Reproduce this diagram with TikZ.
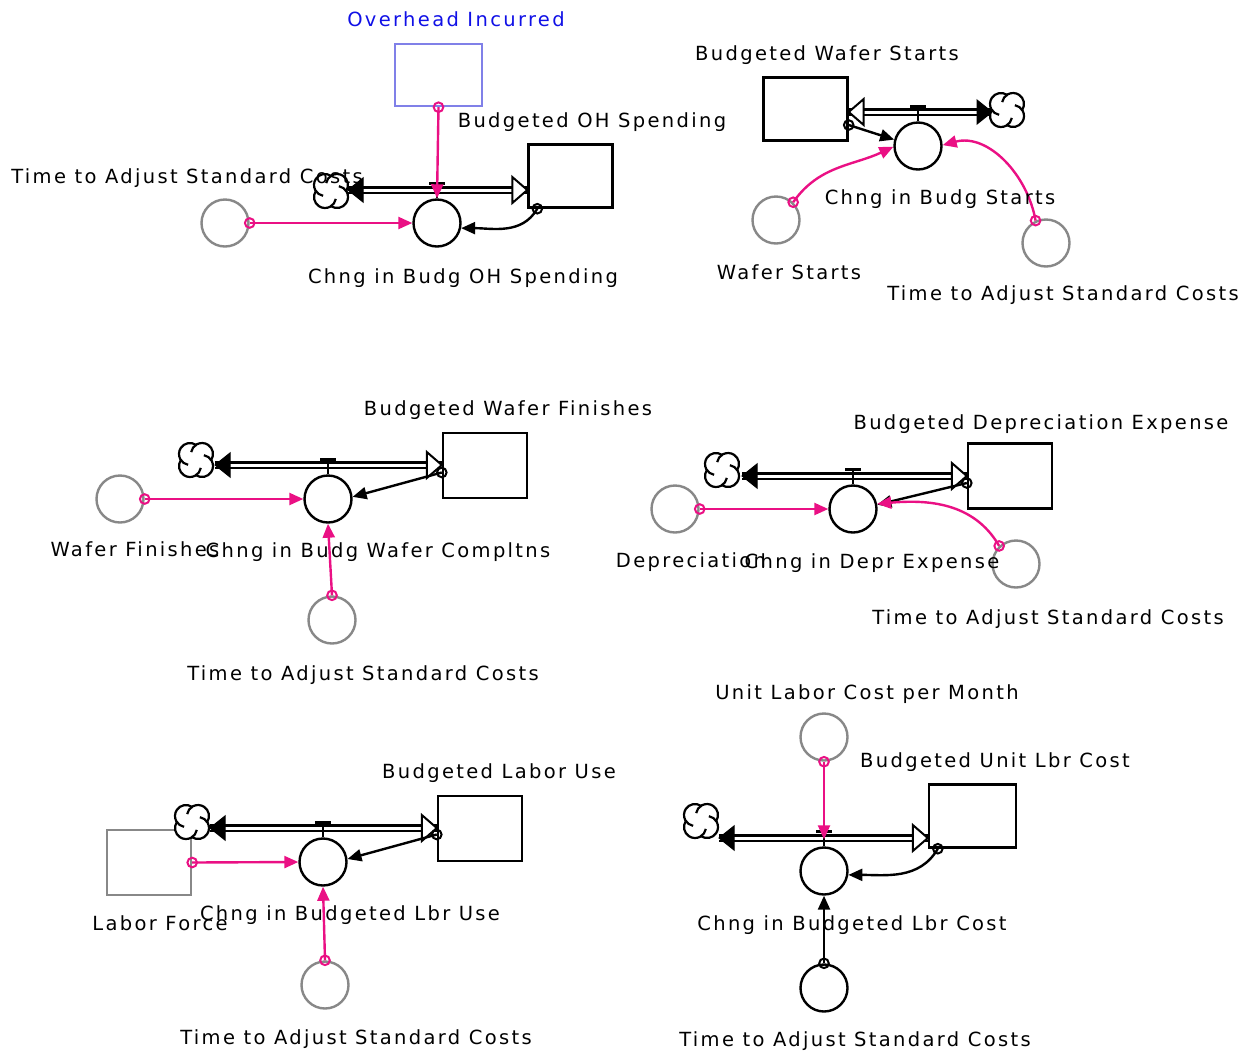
\documentclass[tikz,border=0pt]{standalone}
\usepackage{fontspec}
\newfontfamily\lblfont{DejaVu Sans}[LetterSpace=12]
\usetikzlibrary{arrows.meta}
\definecolor{pinkc}{RGB}{234,16,132}
\definecolor{grayc}{RGB}{136,136,136}
\definecolor{lavc}{RGB}{128,128,232}
\definecolor{bluec}{RGB}{16,16,230}

\newcommand\sdcloud[1]{%
 \fill[white] (#1.center) +(6,6) circle (11) +(-6,6) circle (11) +(-6,-6) circle (11) +(6,-6) circle (11);
 \draw[line width=2.2pt] (#1.center) ++(6,6) ++(-33.1:11) arc[start angle=-33.1, end angle=170, radius=11];
 \draw[line width=2.2pt] (#1.center) ++(-6,6) ++(56.9:11) arc[start angle=56.9, end angle=260, radius=11];
 \draw[line width=2.2pt] (#1.center) ++(-6,-6) ++(146.9:11) arc[start angle=146.9, end angle=350, radius=11];
 \draw[line width=2.2pt] (#1.center) ++(6,-6) ++(236.9:11) arc[start angle=236.9, end angle=440, radius=11];
}
\newcommand\headL[1]{\filldraw[black, line width=1pt, line join=miter] (#1) -- ++(15,12) -- ++(0,-24) -- cycle;}
\newcommand\headR[1]{\filldraw[black, line width=1pt, line join=miter] (#1) -- ++(-15,12) -- ++(0,-24) -- cycle;}
\newcommand\openL[1]{\filldraw[fill=white, draw=black, line width=2pt, line join=miter] (#1) -- ++(15,13) -- ++(0,-26) -- cycle;}
\newcommand\openR[1]{\filldraw[fill=white, draw=black, line width=2pt, line join=miter] (#1) -- ++(-15,13) -- ++(0,-26) -- cycle;}
\newcommand\valveT[1]{\draw[line width=2.4pt] (#1.north) -- ++(0,15) ++(-8,0) -- ++(16,0);}
\newcommand\pdot[1]{\draw[pinkc, line width=2pt] (#1) circle (4.8);}
\newcommand\kdot[1]{\draw[black, line width=2pt] (#1) circle (4.8);}

\tikzset{
 stockbox/.style={draw=black, line width=2.4pt, fill=white, minimum width=84pt, minimum height=63pt, inner sep=0},
 valvec/.style={circle, draw=black, line width=2.4pt, fill=white, minimum size=47pt, inner sep=0},
 auxc/.style={circle, draw=grayc, line width=2.4pt, minimum size=47pt, inner sep=0},
 auxk/.style={auxc, draw=black},
 cloudn/.style={circle, minimum size=34pt, inner sep=0, draw=none},
 lbl/.style={font=\lblfont\fontsize{19.5pt}{21pt}\selectfont, inner sep=0, text height=14pt, text depth=0pt, anchor=center},
 pinkarr/.style={draw=pinkc, line width=2.4pt, -{Triangle[length=14pt,width=12pt]}},
 blackarr/.style={draw=black, line width=2.4pt, -{Triangle[length=14pt,width=12pt]}},
 pipe/.style={draw=black, line width=2.4pt, double=white, double distance=3pt},
}

\begin{document}
\begin{tikzpicture}[x=1pt,y=1pt]
\useasboundingbox (0,0) rectangle (1252,-1053);

% ---------- nodes ----------
% module 1
\node[stockbox, draw=lavc, minimum width=87pt, minimum height=62pt] (ov) at (438.5,-75) {};
\node[stockbox] (s1) at (570.5,-176) {};
\node[auxc] (a1) at (225,-223) {};
\node[cloudn] (c1) at (331,-191) {};
% module 2
\node[stockbox] (s2) at (805.5,-109) {};
\node[auxc] (a2w) at (776,-220) {};
\node[auxc] (a2t) at (1046,-243) {};
\node[cloudn] (c2) at (1007,-110) {};
% module 3
\node[stockbox, minimum height=65pt] (s3) at (485,-465.5) {};
\node[auxc] (a3w) at (120,-499) {};
\node[auxc] (a3t) at (332,-620) {};
\node[cloudn] (c3) at (196,-460) {};
% module 4
\node[stockbox, minimum height=65pt] (s4) at (1010,-476) {};
\node[auxc] (a4d) at (675,-509) {};
\node[auxc] (a4t) at (1016,-564) {};
\node[cloudn] (c4) at (722,-470) {};
% module 5
\node[stockbox, minimum height=65pt] (s5) at (480,-828.5) {};
\node[stockbox, draw=grayc, minimum height=65pt] (lf) at (149,-862.5) {};
\node[auxc] (a5t) at (325,-985) {};
\node[cloudn] (c5) at (192,-822) {};
% module 6
\node[stockbox, minimum width=87pt] (s6) at (972.5,-816) {};
\node[auxc] (a6u) at (824,-737) {};
\node[auxk] (a6t) at (824,-988) {};
\node[cloudn] (c6) at (701,-821) {};

% pipe end coordinates
\coordinate (p1a) at (348,-190); \coordinate (p1b) at (s1.west |- p1a);
\coordinate (p2a) at (992,-112); \coordinate (p2b) at (s2.east |- p2a);
\coordinate (p3a) at (215,-465); \coordinate (p3b) at (s3.west |- p3a);
\coordinate (p4a) at (742,-476); \coordinate (p4b) at (s4.west |- p4a);
\coordinate (p5a) at (210,-828); \coordinate (p5b) at (s5.west |- p5a);
\coordinate (p6a) at (719,-838); \coordinate (p6b) at (s6.west |- p6a);

% ---------- pipes ----------
\draw[pipe] (p1a) -- (p1b);
\draw[pipe] (p2a) -- (p2b);
\draw[pipe] (p3a) -- (p3b);
\draw[pipe] (p4a) -- (p4b);
\draw[pipe] (p5a) -- (p5b);
\draw[pipe] (p6a) -- (p6b);
\headL{p1a} \openR{p1b}
\headR{p2a} \openL{p2b}
\headL{p3a} \openR{p3b}
\headL{p4a} \openR{p4b}
\headL{p5a} \openR{p5b}
\headL{p6a} \openR{p6b}

% ---------- clouds ----------
\sdcloud{c1} \sdcloud{c2} \sdcloud{c3} \sdcloud{c4} \sdcloud{c5} \sdcloud{c6}

% ---------- valves ----------
\node[valvec] (v1) at (437,-223) {};
\node[valvec] (v2) at (918,-146) {};
\node[valvec] (v3) at (328,-499) {};
\node[valvec] (v4) at (853,-509) {};
\node[valvec] (v5) at (323,-862) {};
\node[valvec] (v6) at (824,-871) {};
\valveT{v1} \valveT{v2} \valveT{v3} \valveT{v4} \valveT{v5} \valveT{v6}

% ---------- connectors ----------
% module 1
\draw[pinkarr] (ov.south) -- (v1.north); \pdot{ov.south}
\draw[pinkarr] (a1.east) -- (v1.west); \pdot{a1.east}
\draw[blackarr] ([xshift=10pt]s1.south west) to[out=240,in=0] (v1.-12); \kdot{[xshift=10pt]s1.south west}
% module 2
\draw[blackarr] ([yshift=-16pt]s2.east) -- (v2.165); \kdot{[yshift=-16pt]s2.east}
\draw[pinkarr] (a2w.46) to[out=55,in=205] (v2.182); \pdot{a2w.46}
\draw[pinkarr] (a2t.115) to[out=100,in=15] (v2.2); \pdot{a2t.115}
% module 3
\draw[blackarr] ([yshift=-7pt]s3.west) -- (v3.5); \kdot{[yshift=-7pt]s3.west}
\draw[pinkarr] (a3w.east) -- (v3.west); \pdot{a3w.east}
\draw[pinkarr] (a3t.north) -- (v3.south); \pdot{a3t.north}
% module 4
\draw[blackarr] ([yshift=-7pt]s4.west) -- (v4.10); \kdot{[yshift=-7pt]s4.west}
\draw[pinkarr] (a4d.east) -- (v4.west); \pdot{a4d.east}
\draw[pinkarr] (a4t.133) to[out=120,in=5] (v4.12); \pdot{a4t.133}
% module 5
\draw[blackarr] ([yshift=-6pt]s5.west) -- (v5.7); \kdot{[yshift=-6pt]s5.west}
\draw[pinkarr] (lf.east) -- (v5.west); \pdot{lf.east}
\draw[pinkarr] (a5t.north) -- (v5.south); \pdot{a5t.north}
% module 6
\draw[pinkarr] (a6u.south) -- ([yshift=7pt]v6.north); \pdot{a6u.south}
\draw[blackarr] ([xshift=10pt]s6.south west) to[out=240,in=0] (v6.-9); \kdot{[xshift=10pt]s6.south west}
\draw[blackarr] (a6t.north) -- (v6.south); \kdot{a6t.north}

% ---------- labels ----------
\node[lbl, text=bluec] (t1a) at (456,-19) {Overhead Incurred};
\node[lbl] (t1b) at (592,-120) {Budgeted OH Spending};
\node[lbl] (t1c) at (187,-176) {Time to Adjust Standard Costs};
\node[lbl] (t1d) at (463,-276) {Chng in Budg OH Spending};

\node[lbl] (t2a) at (827,-53) {Budgeted Wafer Starts};
\node[lbl] (t2b) at (940,-197) {Chng in Budg Starts};
\node[lbl] (t2c) at (789,-272) {Wafer Starts};
\node[lbl] (t2d) at (1063,-293) {Time to Adjust Standard Costs};

\node[lbl] (t3a) at (508,-408) {Budgeted Wafer Finishes};
\node[lbl] (t3b) at (135,-549) {Wafer Finishes};
\node[lbl] (t3c) at (378,-550) {Chng in Budg Wafer Compltns};
\node[lbl] (t3d) at (363,-673) {Time to Adjust Standard Costs};

\node[lbl] (t4a) at (1041,-422) {Budgeted Depreciation Expense};
\node[lbl] (t4b) at (691,-560) {Depreciation};
\node[lbl] (t4c) at (872,-561) {Chng in Depr Expense};
\node[lbl] (t4d) at (1048,-617) {Time to Adjust Standard Costs};

\node[lbl] (t5a) at (499,-771) {Budgeted Labor Use};
\node[lbl] (t5b) at (160,-923) {Labor Force};
\node[lbl] (t5c) at (350,-913) {Chng in Budgeted Lbr Use};
\node[lbl] (t5d) at (356,-1037) {Time to Adjust Standard Costs};

\node[lbl] (t6a) at (867,-692) {Unit Labor Cost per Month};
\node[lbl] (t6b) at (995,-760) {Budgeted Unit Lbr Cost};
\node[lbl] (t6c) at (852,-923) {Chng in Budgeted Lbr Cost};
\node[lbl] (t6d) at (855,-1039) {Time to Adjust Standard Costs};
\end{tikzpicture}
\end{document}
